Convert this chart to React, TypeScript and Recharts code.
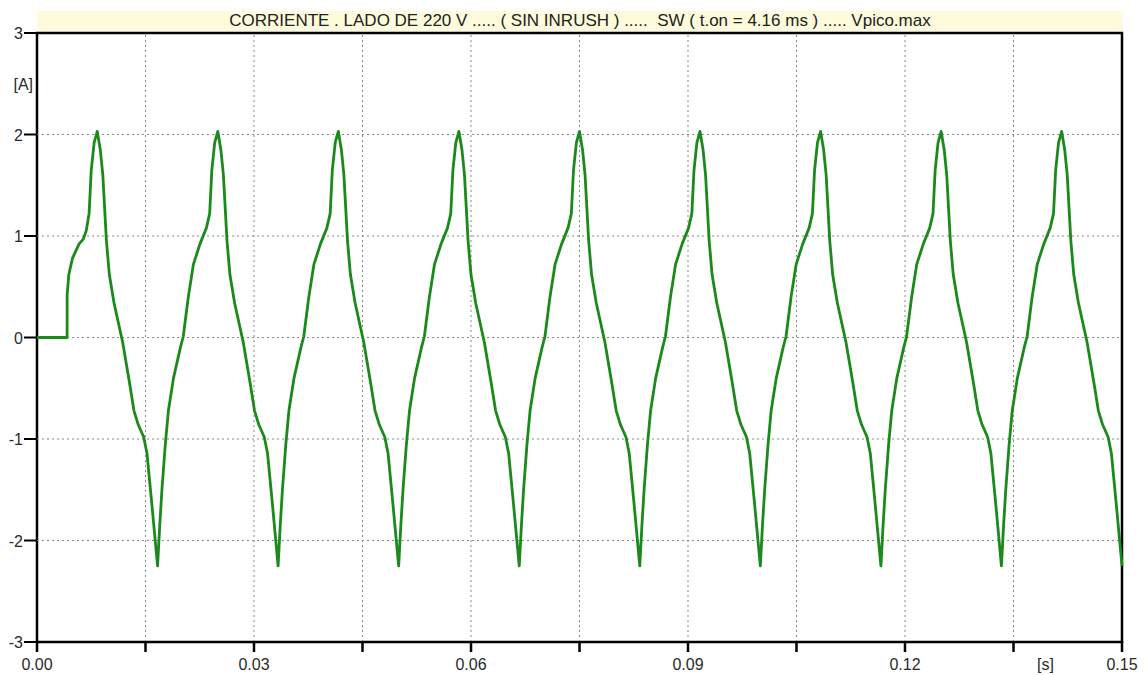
import React from 'react';
import {
  LineChart,
  Line,
  XAxis,
  YAxis,
  ReferenceLine,
  ReferenceArea,
} from 'recharts';

// current on 220 V side, time in ms, current in A
const cycle0: [number, number][] = [
  [0, 0], [4.16, 0], [4.17, 0.42], [4.4, 0.62], [4.9, 0.78], [5.8, 0.92], [6.4, 0.97], [6.8, 1.05],
  [7.2, 1.22], [7.5, 1.65], [7.9, 1.92], [8.33, 2.03], [8.75, 1.85], [9.1, 1.6], [9.6, 0.95],
  [10.0, 0.62], [10.65, 0.34], [11.85, -0.05], [12.8, -0.45], [13.4, -0.72], [14.0, -0.86],
  [14.75, -0.98], [15.2, -1.14], [15.9, -1.66],
];
const cycle1: [number, number][] = [
  [16.67, -2.25], [16.97, -1.85], [17.27, -1.5], [17.74, -1.05], [18.17, -0.72], [18.87, -0.4],
  [19.82, -0.1], [20.22, 0.01], [20.92, 0.4], [21.62, 0.72], [22.52, 0.92], [23.42, 1.08],
  [23.87, 1.22], [24.17, 1.65], [24.57, 1.92], [25.0, 2.03], [25.42, 1.85], [25.77, 1.6],
  [26.27, 0.95], [26.67, 0.62], [27.32, 0.34], [28.52, -0.05], [29.47, -0.45], [30.07, -0.72],
  [30.67, -0.86], [31.42, -0.98], [31.87, -1.14], [32.57, -1.66],
];
const cycle2: [number, number][] = [
  [33.33, -2.25], [33.63, -1.85], [33.93, -1.5], [34.4, -1.05], [34.83, -0.72], [35.53, -0.4],
  [36.48, -0.1], [36.88, 0.01], [37.58, 0.4], [38.28, 0.72], [39.18, 0.92], [40.08, 1.08],
  [40.53, 1.22], [40.83, 1.65], [41.23, 1.92], [41.66, 2.03], [42.08, 1.85], [42.43, 1.6],
  [42.93, 0.95], [43.33, 0.62], [43.98, 0.34], [45.18, -0.05], [46.13, -0.45], [46.73, -0.72],
  [47.33, -0.86], [48.08, -0.98], [48.53, -1.14], [49.23, -1.66],
];
const cycle3: [number, number][] = [
  [50.0, -2.25], [50.3, -1.85], [50.6, -1.5], [51.07, -1.05], [51.5, -0.72], [52.2, -0.4],
  [53.15, -0.1], [53.55, 0.01], [54.25, 0.4], [54.95, 0.72], [55.85, 0.92], [56.75, 1.08],
  [57.2, 1.22], [57.5, 1.65], [57.9, 1.92], [58.33, 2.03], [58.75, 1.85], [59.1, 1.6],
  [59.6, 0.95], [60.0, 0.62], [60.65, 0.34], [61.85, -0.05], [62.8, -0.45], [63.4, -0.72],
  [64.0, -0.86], [64.75, -0.98], [65.2, -1.14], [65.9, -1.66],
];
const cycle4: [number, number][] = [
  [66.67, -2.25], [66.97, -1.85], [67.27, -1.5], [67.74, -1.05], [68.17, -0.72], [68.87, -0.4],
  [69.82, -0.1], [70.22, 0.01], [70.92, 0.4], [71.62, 0.72], [72.52, 0.92], [73.42, 1.08],
  [73.87, 1.22], [74.17, 1.65], [74.57, 1.92], [75.0, 2.03], [75.42, 1.85], [75.77, 1.6],
  [76.27, 0.95], [76.67, 0.62], [77.32, 0.34], [78.52, -0.05], [79.47, -0.45], [80.07, -0.72],
  [80.67, -0.86], [81.42, -0.98], [81.87, -1.14], [82.57, -1.66],
];
const cycle5: [number, number][] = [
  [83.33, -2.25], [83.63, -1.85], [83.93, -1.5], [84.4, -1.05], [84.83, -0.72], [85.53, -0.4],
  [86.48, -0.1], [86.88, 0.01], [87.58, 0.4], [88.28, 0.72], [89.18, 0.92], [90.08, 1.08],
  [90.53, 1.22], [90.83, 1.65], [91.23, 1.92], [91.66, 2.03], [92.08, 1.85], [92.43, 1.6],
  [92.93, 0.95], [93.33, 0.62], [93.98, 0.34], [95.18, -0.05], [96.13, -0.45], [96.73, -0.72],
  [97.33, -0.86], [98.08, -0.98], [98.53, -1.14], [99.23, -1.66],
];
const cycle6: [number, number][] = [
  [100.0, -2.25], [100.3, -1.85], [100.6, -1.5], [101.07, -1.05], [101.5, -0.72], [102.2, -0.4],
  [103.15, -0.1], [103.55, 0.01], [104.25, 0.4], [104.95, 0.72], [105.85, 0.92], [106.75, 1.08],
  [107.2, 1.22], [107.5, 1.65], [107.9, 1.92], [108.33, 2.03], [108.75, 1.85], [109.1, 1.6],
  [109.6, 0.95], [110.0, 0.62], [110.65, 0.34], [111.85, -0.05], [112.8, -0.45], [113.4, -0.72],
  [114.0, -0.86], [114.75, -0.98], [115.2, -1.14], [115.9, -1.66],
];
const cycle7: [number, number][] = [
  [116.67, -2.25], [116.97, -1.85], [117.27, -1.5], [117.74, -1.05], [118.17, -0.72], [118.87, -0.4],
  [119.82, -0.1], [120.22, 0.01], [120.92, 0.4], [121.62, 0.72], [122.52, 0.92], [123.42, 1.08],
  [123.87, 1.22], [124.17, 1.65], [124.57, 1.92], [125.0, 2.03], [125.42, 1.85], [125.77, 1.6],
  [126.27, 0.95], [126.67, 0.62], [127.32, 0.34], [128.52, -0.05], [129.47, -0.45], [130.07, -0.72],
  [130.67, -0.86], [131.42, -0.98], [131.87, -1.14], [132.57, -1.66],
];
const cycle8: [number, number][] = [
  [133.33, -2.25], [133.63, -1.85], [133.93, -1.5], [134.4, -1.05], [134.83, -0.72], [135.53, -0.4],
  [136.48, -0.1], [136.88, 0.01], [137.58, 0.4], [138.28, 0.72], [139.18, 0.92], [140.08, 1.08],
  [140.53, 1.22], [140.83, 1.65], [141.23, 1.92], [141.66, 2.03], [142.08, 1.85], [142.43, 1.6],
  [142.93, 0.95], [143.33, 0.62], [143.98, 0.34], [145.18, -0.05], [146.13, -0.45], [146.73, -0.72],
  [147.33, -0.86], [148.08, -0.98], [148.53, -1.14], [149.23, -1.66], [150.0, -2.25],
];

const xTicks = [0, 0.015, 0.03, 0.045, 0.06, 0.075, 0.09, 0.105, 0.12, 0.135, 0.15];
const xTickLabels = ['0.00', '', '0.03', '', '0.06', '', '0.09', '', '0.12', '[s]', '0.15'];
const yTicks = [-3, -2, -1, 0, 1, 2, 2.5, 3];
const yTickLabels = ['-3', '-2', '-1', '0', '1', '2', '[A]', '3'];
const xGrid = [0.015, 0.03, 0.045, 0.06, 0.075, 0.09, 0.105, 0.12, 0.135];
const yGrid = [-2, -1, 0, 1, 2];

const title = 'CORRIENTE . LADO DE 220 V ..... ( SIN INRUSH ) .....  SW ( t.on = 4.16 ms ) ..... Vpico.max';

const FONT = '"Liberation Sans", Arial, sans-serif';

const data = [cycle0, cycle1, cycle2, cycle3, cycle4, cycle5, cycle6, cycle7, cycle8]
  .flat()
  .map(([ms, a]) => ({ t: ms / 1000, i: a }));

const XTick = ({ x, y, payload }: any) => {
  const idx = xTicks.indexOf(payload.value);
  const label = xTickLabels[idx] ?? '';
  const dx = label === '[s]' ? 32 : 0;
  return (
    <g>
      <line x1={x} x2={x} y1={y - 1} y2={y + 10} stroke="#000" strokeWidth={2.5} />
      <text x={x + dx} y={y + 28} textAnchor="middle" fontSize={16} fontFamily={FONT} fill="#2a2a2a">
        {label}
      </text>
    </g>
  );
};

const YTick = ({ x, y, payload }: any) => {
  const idx = yTicks.indexOf(payload.value);
  const label = yTickLabels[idx] ?? '';
  const isUnit = label === '[A]';
  return (
    <g>
      {!isUnit && <line x1={x - 13} x2={x} y1={y} y2={y} stroke="#000" strokeWidth={2} />}
      <text
        x={isUnit ? x - 4 : x - 14}
        y={y + 6}
        textAnchor="end"
        fontSize={16}
        fontFamily={FONT}
        fill="#2a2a2a"
      >
        {label}
      </text>
    </g>
  );
};

export default function App() {
  return (
    <div style={{ position: 'absolute', left: 0, top: 0, width: 1145, height: 675, background: '#fff' }}>
      <div
        style={{
          position: 'absolute',
          left: 37,
          top: 11,
          width: 1086,
          height: 20,
          background: '#fdfbdc',
          fontFamily: FONT,
          fontSize: 17,
          lineHeight: '20px',
          textAlign: 'center',
          whiteSpace: 'pre',
          color: '#222',
        }}
      >
        {title}
      </div>
      <LineChart
        width={1145}
        height={675}
        data={data}
        margin={{ top: 33, right: 23, bottom: 3, left: 0 }}
      >
        <XAxis
          dataKey="t"
          type="number"
          domain={[0, 0.15]}
          ticks={xTicks}
          tick={<XTick />}
          tickSize={0}
          tickMargin={0}
          axisLine={false}
          interval={0}
          height={30}
        />
        <YAxis
          type="number"
          domain={[-3, 3]}
          ticks={yTicks}
          tick={<YTick />}
          tickSize={0}
          tickMargin={0}
          axisLine={false}
          interval={0}
          width={37}
        />
        {yGrid.map((v) => (
          <ReferenceLine key={'y' + v} y={v} stroke="#888" strokeDasharray="2 3" strokeWidth={1} />
        ))}
        {xGrid.map((v) => (
          <ReferenceLine key={'x' + v} x={v} stroke="#888" strokeDasharray="2 3" strokeWidth={1} />
        ))}
        <Line
          type="linear"
          dataKey="i"
          stroke="#1b891b"
          strokeWidth={2.8}
          strokeLinejoin="round"
          dot={false}
          isAnimationActive={false}
        />
        <ReferenceArea
          x1={0}
          x2={0.15}
          y1={-3}
          y2={3}
          fill="none"
          fillOpacity={0}
          stroke="#000"
          strokeWidth={2.5}
        />
      </LineChart>
    </div>
  );
}
